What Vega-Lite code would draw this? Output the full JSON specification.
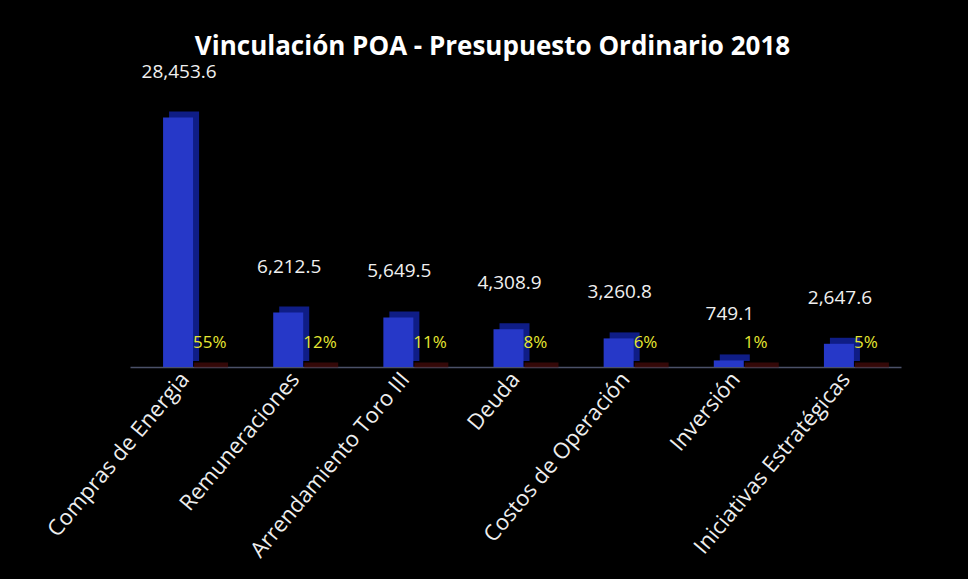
{
  "$schema": "https://vega.github.io/schema/vega-lite/v6.json",
  "autosize": {"type": "none"},
  "width": 771,
  "height": 263,
  "padding": {"left": 130, "top": 104, "right": 67, "bottom": 212},
  "background": "#000000",
  "config": {"view": {"stroke": null}, "font": "Open Sans"},
  "title": {
    "text": "Vinculación POA - Presupuesto Ordinario 2018",
    "color": "#ffffff",
    "fontSize": 26,
    "fontWeight": "bold",
    "font": "Open Sans",
    "anchor": "middle",
    "dx": -23,
    "offset": 3
  },
  "data": {
    "values": [
      {"categoria": "Compras de Energia", "monto": 28453.6, "pct": 0.55},
      {"categoria": "Remuneraciones", "monto": 6212.5, "pct": 0.12},
      {"categoria": "Arrendamiento Toro III", "monto": 5649.5, "pct": 0.11},
      {"categoria": "Deuda", "monto": 4308.9, "pct": 0.08},
      {"categoria": "Costos de Operación", "monto": 3260.8, "pct": 0.06},
      {"categoria": "Inversión", "monto": 749.1, "pct": 0.01},
      {"categoria": "Iniciativas Estratégicas", "monto": 2647.6, "pct": 0.05}
    ]
  },
  "encoding": {
    "x": {
      "field": "categoria",
      "type": "nominal",
      "sort": null,
      "scale": {"paddingInner": 0, "paddingOuter": 0},
      "axis": {
        "title": null,
        "labelAngle": -50,
        "labelColor": "#eeeeee",
        "labelFontSize": 22,
        "labelFont": "Open Sans",
        "labelPadding": 8,
        "labelLimit": 400,
        "labelOverlap": false,
        "ticks": false,
        "domainColor": "#4a5068",
        "domainWidth": 1.5
      }
    }
  },
  "layer": [
    {
      "mark": {"type": "tick", "orient": "horizontal", "size": 34, "thickness": 5, "color": "#4a0c0c", "xOffset": 26, "yOffset": -2},
      "encoding": {
        "y": {"datum": 0, "type": "quantitative", "scale": {"domain": [0, 30000]}, "axis": null}
      }
    },
    {
      "mark": {"type": "bar", "width": 30, "color": "#0f1d86", "xOffset": -1, "yOffset": -6, "y2Offset": -6},
      "encoding": {
        "y": {"field": "monto", "type": "quantitative", "scale": {"domain": [0, 30000]}, "axis": null}
      }
    },
    {
      "mark": {"type": "bar", "width": 30, "color": "#2638c8", "xOffset": -7},
      "encoding": {
        "y": {"field": "monto", "type": "quantitative"}
      }
    },
    {
      "mark": {"type": "text", "color": "#f0f0f0", "fontSize": 19, "font": "Open Sans", "xOffset": -6, "dy": -46, "baseline": "middle"},
      "encoding": {
        "y": {"field": "monto", "type": "quantitative"},
        "text": {"field": "monto", "type": "quantitative", "format": ",.1f"}
      }
    },
    {
      "mark": {"type": "text", "color": "#e6e632", "fontSize": 17, "font": "Open Sans", "align": "left", "xOffset": 8, "dy": -24, "baseline": "middle"},
      "encoding": {
        "y": {"datum": 0, "type": "quantitative"},
        "text": {"field": "pct", "type": "quantitative", "format": ".0%"}
      }
    }
  ]
}
